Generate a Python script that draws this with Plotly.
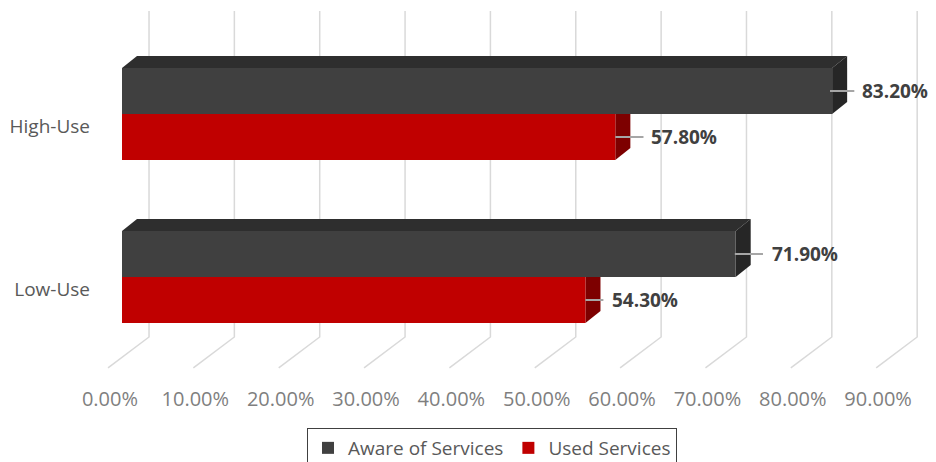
import plotly.graph_objects as go

# ---- data -------------------------------------------------------------
categories = ["Low-Use", "High-Use"]
aware = [71.9, 83.2]          # % aware of services
used = [54.3, 57.8]           # % that used services
series_names = ["Aware of Services", "Used Services"]
tick_values = [0, 10, 20, 30, 40, 50, 60, 70, 80, 90]
tick_labels = ["0.00%", "10.00%", "20.00%", "30.00%", "40.00%",
               "50.00%", "60.00%", "70.00%", "80.00%", "90.00%"]

# ---- style / 3-D projection ------------------------------------------
AWARE_FRONT, AWARE_TOP, AWARE_SIDE = "#404040", "#2e2e2e", "#262626"
USED_FRONT, USED_TOP, USED_SIDE = "#C00000", "#960000", "#7d0000"
GRID = "#d9d9d9"
TEXT = "#595959"
FONT = "Open Sans"

BAR_H = 0.282          # thickness of one bar (category units)
DX, DY = 1.76, 0.074   # bar depth offset (x units, y units)
WALL_X = 3.165         # back-wall shift of gridlines relative to bar front
FLOOR_X = -1.64        # front edge of the floor relative to bar front
WALL_TOP, WALL_BOTTOM, FLOOR_Y = 1.632, -0.368, -0.558
CAT_LABEL_SHIFT = -0.074
TICK_SHIFT = -1.41

# leader line (start, end) and label start, relative to the bar end
label_style = {
    ("Aware", 1): (-0.25, 2.6, 3.3),
    ("Used", 1): (0.0, 3.3, 4.0),
    ("Aware", 0): (-0.1, 3.2, 4.0),
    ("Used", 0): (0.0, 2.1, 2.9),
}

fig = go.Figure()
ypos = list(range(len(categories)))

fig.add_trace(go.Bar(
    orientation="h", name=series_names[0],
    x=aware, y=[i + BAR_H / 2 for i in ypos], width=BAR_H,
    marker=dict(color=AWARE_FRONT, line=dict(width=0)),
    hovertemplate="%{x:.2f}%<extra>" + series_names[0] + "</extra>",
))
fig.add_trace(go.Bar(
    orientation="h", name=series_names[1],
    x=used, y=[i - BAR_H / 2 for i in ypos], width=BAR_H,
    marker=dict(color=USED_FRONT, line=dict(width=0)),
    hovertemplate="%{x:.2f}%<extra>" + series_names[1] + "</extra>",
))

shapes = []
# back wall gridlines folding onto the floor
for v in tick_values:
    xb = v + WALL_X
    xf = v + FLOOR_X
    shapes.append(dict(
        type="path", layer="below", xref="x", yref="y",
        path=f"M {xb},{WALL_TOP} L {xb},{WALL_BOTTOM} L {xf},{FLOOR_Y}",
        line=dict(color=GRID, width=1.5),
    ))


def faces(v, bottom, top, top_col, side_col):
    out = [
        dict(type="path", layer="below", xref="x", yref="y",
             path=(f"M 0,{top} L {v},{top} L {v + DX},{top + DY} "
                   f"L {DX},{top + DY} Z"),
             fillcolor=top_col, line=dict(width=0)),
        dict(type="path", layer="below", xref="x", yref="y",
             path=(f"M {v},{top} L {v},{bottom} L {v + DX},{bottom + DY} "
                   f"L {v + DX},{top + DY} Z"),
             fillcolor=side_col, line=dict(width=0)),
    ]
    return out


annotations = []
for i in ypos:
    bars = [
        ("Used", used[i], i - BAR_H, i, USED_TOP, USED_SIDE),
        ("Aware", aware[i], i, i + BAR_H, AWARE_TOP, AWARE_SIDE),
    ]
    for key, v, b, t, tc, sc in bars:
        shapes.extend(faces(v, b, t, tc, sc))
        l0, l1, tx = label_style[(key, i)]
        yc = (b + t) / 2
        shapes.append(dict(
            type="line", layer="above", xref="x", yref="y",
            x0=v + l0, x1=v + l1, y0=yc, y1=yc,
            line=dict(color="#a6a6a6", width=2),
        ))
        annotations.append(dict(
            x=v + tx, y=yc, xref="x", yref="y", xanchor="left",
            yanchor="middle", text=f"<b>{v:.2f}%</b>", showarrow=False,
            font=dict(family=FONT, size=19, color="#404040"),
        ))

fig.update_layout(
    width=936, height=462,
    margin=dict(l=100, r=0, t=0, b=77, autoexpand=False),
    paper_bgcolor="white", plot_bgcolor="white",
    barmode="overlay",
    shapes=shapes, annotations=annotations,
    showlegend=True,
    legend=dict(
        orientation="h", x=0.2476, y=-0.1117, xanchor="left",
        yanchor="top", bordercolor="#404040", borderwidth=1,
        font=dict(family=FONT, size=19, color=TEXT),
        itemwidth=30, traceorder="normal",
    ),
    xaxis=dict(
        range=[-2.578, 95.37], showgrid=False, zeroline=False,
        showline=False, ticks="",
        tickvals=[v + TICK_SHIFT for v in tick_values], ticktext=tick_labels,
        tickfont=dict(family=FONT, size=20, color="#7f7f7f"),
    ),
    yaxis=dict(
        range=[-0.6626, 1.6994], showgrid=False, zeroline=False,
        showline=False, ticks="",
        tickvals=[i + CAT_LABEL_SHIFT for i in ypos], ticktext=categories,
        tickfont=dict(family=FONT, size=19, color=TEXT),
        ticklabelstandoff=9,
    ),
)

fig.write_html("out.html")
